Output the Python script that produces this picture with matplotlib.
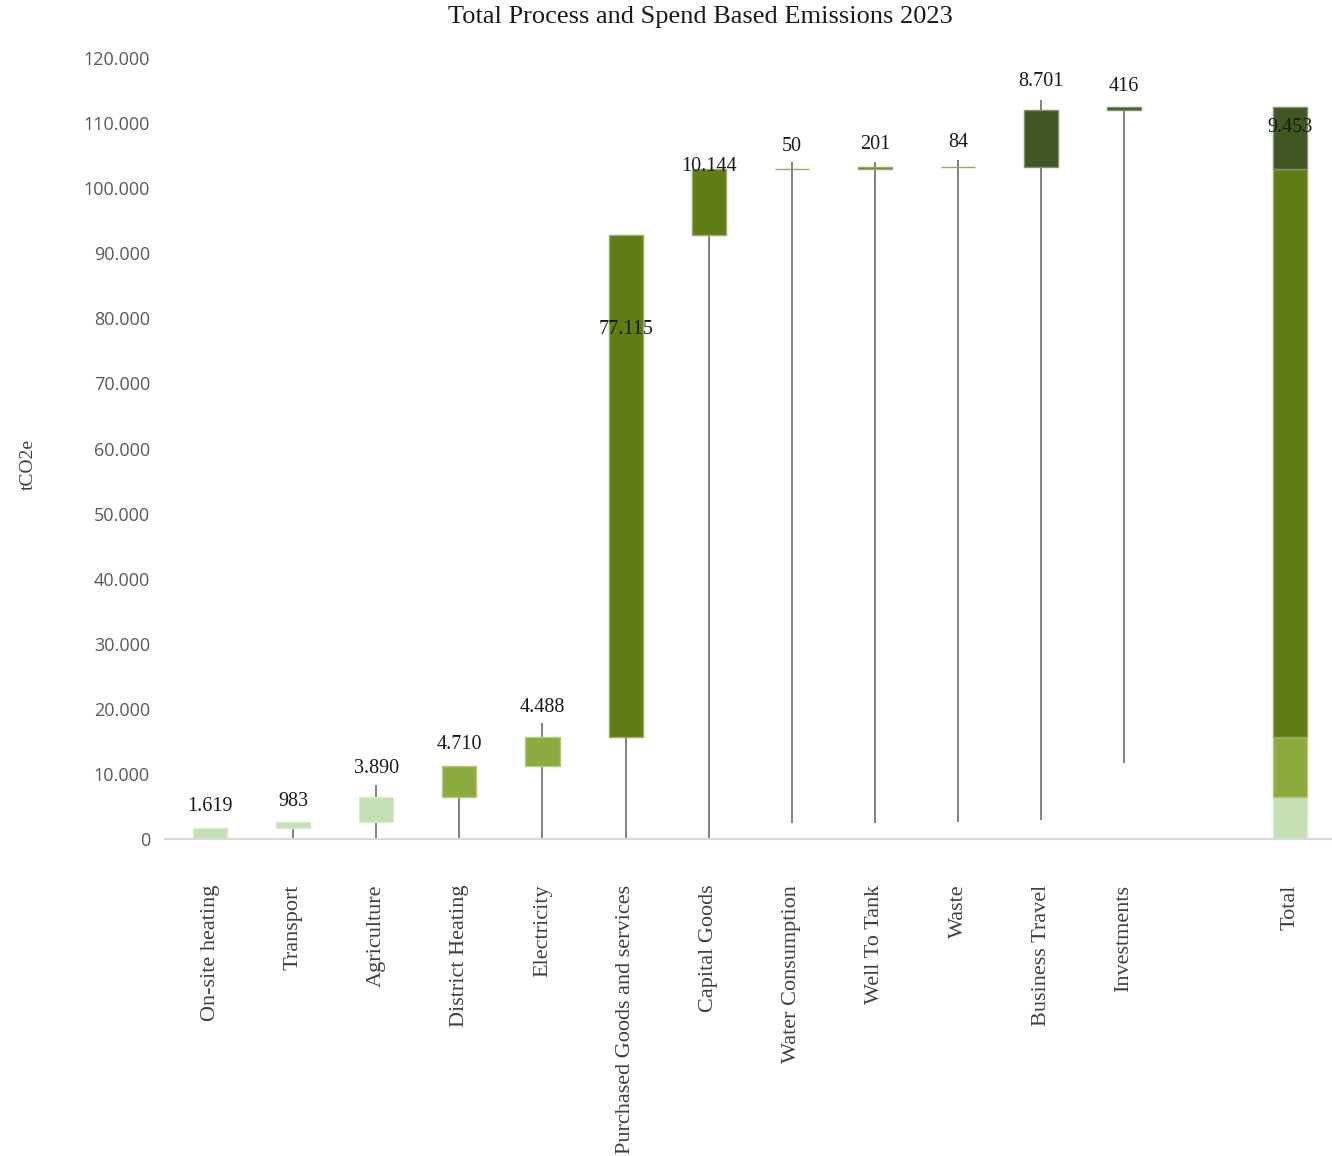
import numpy as np
import matplotlib.pyplot as plt
from matplotlib.colors import to_rgb
from matplotlib.ticker import FuncFormatter


categories = ["On-site heating", "Transport", "Agriculture", "District Heating", "Electricity",
              "Purchased Goods and services", "Capital Goods", "Water Consumption", "Well To Tank",
              "Waste", "Business Travel", "Investments"]
emissions = [1619, 983, 3890, 4710, 4488, 77115, 10144, 50, 201, 84, 8701, 416]
groups = [0, 0, 0, 1, 1, 2, 2, 2, 2, 2, 3, 3]

# stacked parts of the total column, one per colour group
total_parts = [6492, 9198, 87259, 9453]

# high-low lines behind the steps
line_low = [np.nan, 0, 0, 0, 0, 0, 0, 2500, 2500, 2600, 2900, 11700]
line_high = [np.nan, 1619, 8300, 6492, 17800, 15690, 92805, 104000, 104100, 104300, 113600, 112402]

# where the value labels sit (tCO2e)
label_y = [5070, 5690, 10760, 14600, 20280, 78360, 103400, 106480, 106640, 106950, 116320, 115700]
total_label_y = 109250

colors = ["#c5e0b4", "#8aab3e", "#5f7c15", "#3f5723"]


def dotted(v, pos=None):
	return "{:,}".format(int(round(v))).replace(",", ".")


def lighter(c, f=0.35):
	r, g, b = to_rgb(c)
	return (r + (1 - r) * f, g + (1 - g) * f, b + (1 - b) * f)


x = np.arange(len(categories))
bottoms = np.concatenate([[0], np.cumsum(emissions)[:-1]])
x_total = len(categories) + 1

fig = plt.figure(figsize=(13.32, 11.56), dpi=100)
ax = fig.add_axes([0.124, 0.2742, 0.876, 0.6756])

ax.vlines(x, line_low, line_high, color="#808080", lw=1.4, zorder=1)

bar_colors = [colors[g] for g in groups]
ax.bar(x, emissions, bottom=bottoms, width=0.41, color=bar_colors,
	edgecolor=[lighter(c) for c in bar_colors], linewidth=1.0, zorder=2)

total_bottoms = np.concatenate([[0], np.cumsum(total_parts)[:-1]])
ax.bar([x_total] * len(total_parts), total_parts, bottom=total_bottoms, width=0.41,
	color=colors, edgecolor=[lighter(c) for c in colors], linewidth=1.0, zorder=2)

for xi, v, ly in zip(x, emissions, label_y):
	ax.text(xi, ly, dotted(v), ha="center", va="center", fontsize=14.5,
		family="Liberation Serif", color="#1a1a1a", zorder=3)
ax.text(x_total, total_label_y, dotted(total_parts[-1]), ha="center", va="center",
	fontsize=14.5, family="Liberation Serif", color="#1a1a1a", zorder=3)

ax.set_xlim(-0.54, 13.5)
ax.set_ylim(0, 120000)
ax.set_yticks(np.arange(0, 120001, 10000))
ax.yaxis.set_major_formatter(FuncFormatter(dotted))
ax.set_xticks(list(x) + [x_total])
ax.set_xticklabels(categories + ["Total"], rotation=90, va="top", ha="center",
	fontsize=16, family="Liberation Serif", color="#404040")
ax.tick_params(axis="x", length=0, pad=33)
ax.tick_params(axis="y", length=0, pad=11, labelsize=13, labelcolor="#595959")
for lab in ax.get_yticklabels():
	lab.set_family("Open Sans")

for s in ["top", "right", "left"]:
	ax.spines[s].set_visible(False)
ax.spines["bottom"].set_color("#d9d9d9")
ax.spines["bottom"].set_linewidth(1.5)

fig.text(700 / 1332, 1 - 17 / 1156, "Total Process and Spend Based Emissions 2023",
	ha="center", va="center", fontsize=19, family="Liberation Serif", color="#1a1a1a")
fig.text(28 / 1332, 1 - 465 / 1156, "tCO2e", rotation=90, ha="center", va="center",
	fontsize=14, family="Liberation Serif", color="#404040")

fig.savefig("out.png", dpi=100)
